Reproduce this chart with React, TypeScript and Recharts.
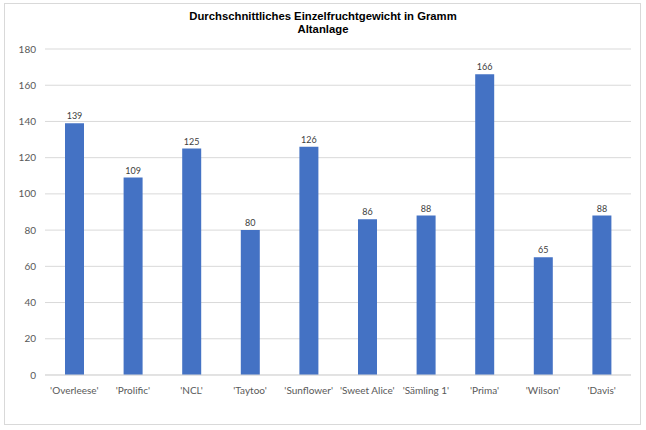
import React from 'react';
import { BarChart, Bar, XAxis, YAxis, CartesianGrid, LabelList } from 'recharts';

const sorten = ["'Overleese'", "'Prolific'", "'NCL'", "'Taytoo'", "'Sunflower'", "'Sweet Alice'", "'Sämling 1'", "'Prima'", "'Wilson'", "'Davis'"];
const gewicht = [139, 109, 125, 80, 126, 86, 88, 166, 65, 88];
const yTicks = [0, 20, 40, 60, 80, 100, 120, 140, 160, 180];

const chartData = sorten.map((name, i) => ({ name, wert: gewicht[i] }));

const App: React.FC = () => {
  return (
    <div style={{ position: 'absolute', left: 0, top: 0, width: 646, height: 430, background: '#fff' }}>
      <div
        style={{
          position: 'absolute',
          left: 4,
          top: 3,
          width: 635,
          height: 420,
          border: '1px solid #d9d9d9',
        }}
      />
      <div
        style={{
          position: 'absolute',
          left: 0,
          top: 10,
          width: 646,
          textAlign: 'center',
          fontFamily: '"Liberation Sans", Arial, sans-serif',
          fontWeight: 'bold',
          fontSize: 11.3,
          lineHeight: '13px',
          color: '#000',
        }}
      >
        Durchschnittliches Einzelfruchtgewicht in Gramm
        <br />
        Altanlage
      </div>
      <div style={{ position: 'absolute', left: 0, top: 0 }}>
        <BarChart
          width={646}
          height={430}
          data={chartData}
          margin={{ top: 49, right: 15, bottom: 25, left: 0 }}
          barCategoryGap={0}
        >
          <CartesianGrid vertical={false} stroke="#d9d9d9" />
          <XAxis
            dataKey="name"
            height={30}
            axisLine={{ stroke: '#d9d9d9' }}
            tickLine={false}
            tickSize={0}
            tickMargin={12}
            interval={0}
            tick={{ fill: '#595959', fontSize: 10, fontFamily: 'Lato, sans-serif' }}
          />
          <YAxis
            width={45}
            domain={[0, 180]}
            ticks={yTicks}
            axisLine={false}
            tickLine={false}
            tickSize={0}
            tickMargin={9}
            tick={{ fill: '#595959', fontSize: 10, fontFamily: 'Lato, sans-serif' }}
          />
          <Bar dataKey="wert" fill="#4472c4" barSize={19} isAnimationActive={false}>
            <LabelList
              dataKey="wert"
              position="top"
              offset={4}
              style={{ fill: '#404040', fontSize: 9, fontFamily: 'Lato, sans-serif' }}
            />
          </Bar>
        </BarChart>
      </div>
    </div>
  );
};

export default App;
